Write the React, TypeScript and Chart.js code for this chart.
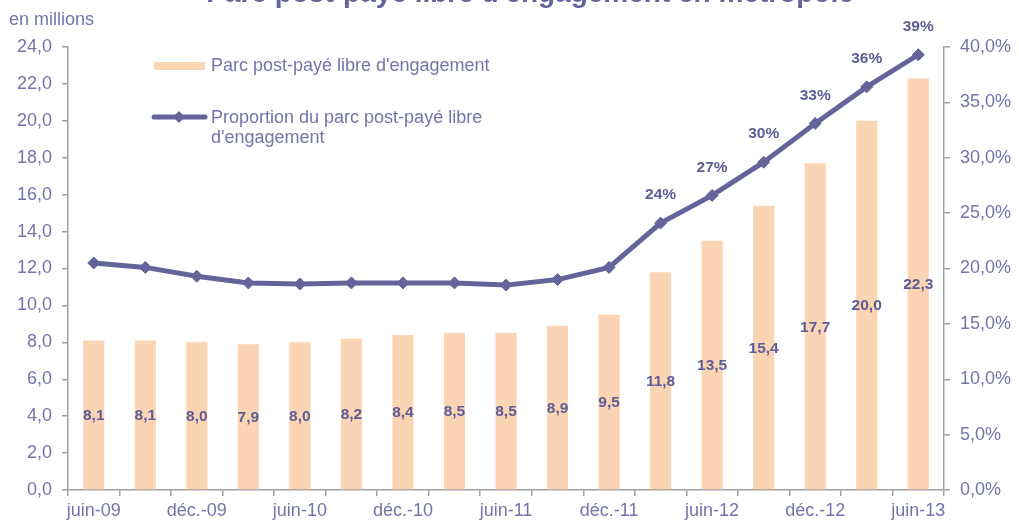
import React, { useEffect, useRef } from "react";
import { Chart, registerables } from "chart.js";

Chart.register(...registerables);

const categories = [
  "juin-09", "sept.-09", "déc.-09", "mars-10", "juin-10", "sept.-10", "déc.-10", "mars-11",
  "juin-11", "sept.-11", "déc.-11", "mars-12", "juin-12", "sept.-12", "déc.-12", "mars-13", "juin-13",
];
const parcValues = [8.1, 8.1, 8.0, 7.9, 8.0, 8.2, 8.4, 8.5, 8.5, 8.9, 9.5, 11.8, 13.5, 15.4, 17.7, 20.0, 22.3];
const proportionValues = [20.5, 20.1, 19.3, 18.7, 18.6, 18.7, 18.7, 18.7, 18.5, 19.0, 20.1, 24.1, 26.6, 29.6, 33.1, 36.4, 39.3];
const proportionLabelledFrom = 11;

const titleText = "Parc post-payé libre d'engagement en métropole";
const unitText = "en millions";
const legendBar = "Parc post-payé libre d'engagement";
const legendLine = ["Proportion du parc post-payé libre", "d'engagement"];

const BAR_COLOR = "#FBD4B4";
const LINE_COLOR = "#64649A";
const TEXT_COLOR = "#7474AA";
const LABEL_COLOR = "#5C5C96";
const AXIS_COLOR = "#A0A0A0";
const FONT = "'Liberation Sans', Arial, sans-serif";

const fmt = (v: number, d = 1) => v.toFixed(d).replace(".", ",");

export default function App() {
  const ref = useRef<HTMLCanvasElement | null>(null);

  useEffect(() => {
    if (!ref.current) return;

    const decor = {
      id: "decor",
      afterDatasetsDraw(chart: any) {
        const ctx = chart.ctx;
        ctx.save();
        const barMeta = chart.getDatasetMeta(0);
        ctx.font = `bold 15.5px ${FONT}`;
        ctx.fillStyle = LABEL_COLOR;
        ctx.textAlign = "center";
        ctx.textBaseline = "middle";
        barMeta.data.forEach((el: any, i: number) => {
          ctx.fillText(fmt(parcValues[i]), el.x, (el.y + el.base) / 2 + 1);
        });
        const lineMeta = chart.getDatasetMeta(1);
        lineMeta.data.forEach((el: any, i: number) => {
          if (i < proportionLabelledFrom) return;
          ctx.fillText(`${Math.round(proportionValues[i])}%`, el.x, el.y - 28);
        });
        ctx.restore();
      },
      afterDraw(chart: any) {
        const ctx = chart.ctx;
        ctx.save();
        ctx.font = `bold 28px ${FONT}`;
        ctx.fillStyle = LINE_COLOR;
        ctx.textAlign = "center";
        ctx.textBaseline = "alphabetic";
        ctx.fillText(titleText, 530, 2);
        ctx.font = `18px ${FONT}`;
        ctx.fillStyle = TEXT_COLOR;
        ctx.textAlign = "left";
        ctx.fillText(unitText, 9, 25);
        ctx.fillStyle = BAR_COLOR;
        ctx.fillRect(154, 62, 51, 8);
        ctx.fillStyle = TEXT_COLOR;
        ctx.fillText(legendBar, 211, 71);
        ctx.strokeStyle = LINE_COLOR;
        ctx.lineWidth = 5;
        ctx.lineCap = "round";
        ctx.beginPath();
        ctx.moveTo(154, 117);
        ctx.lineTo(205, 117);
        ctx.stroke();
        ctx.fillStyle = LINE_COLOR;
        ctx.beginPath();
        ctx.moveTo(179 - 6, 117);
        ctx.lineTo(179, 111);
        ctx.lineTo(179 + 6, 117);
        ctx.lineTo(179, 123);
        ctx.closePath();
        ctx.fill();
        ctx.fillStyle = TEXT_COLOR;
        ctx.fillText(legendLine[0], 211, 123);
        ctx.fillText(legendLine[1], 211, 143);
        ctx.restore();
      },
    };

    const tickFont = { family: FONT, size: 18 };

    const chart = new Chart(ref.current, {
      type: "bar",
      data: {
        labels: categories,
        datasets: [
          {
            type: "bar",
            label: legendBar,
            data: parcValues,
            backgroundColor: BAR_COLOR,
            barPercentage: 0.41,
            categoryPercentage: 1,
            yAxisID: "y",
            order: 2,
          },
          {
            type: "line",
            label: legendLine.join(" "),
            data: proportionValues,
            borderColor: LINE_COLOR,
            backgroundColor: LINE_COLOR,
            borderWidth: 5,
            tension: 0,
            pointStyle: "rectRot",
            pointRadius: 6,
            pointBorderWidth: 1,
            pointBackgroundColor: LINE_COLOR,
            pointBorderColor: LINE_COLOR,
            yAxisID: "y1",
            order: 1,
          },
        ],
      },
      options: {
        animation: false,
        responsive: true,
        maintainAspectRatio: false,
        layout: { padding: { top: 47, left: 0, right: 0, bottom: 0 } },
        plugins: {
          legend: { display: false },
          tooltip: { enabled: false },
          title: { display: false },
        },
        scales: {
          x: {
            type: "category",
            offset: true,
            grid: { display: true, drawOnChartArea: false, tickLength: 6, color: AXIS_COLOR, lineWidth: 1.5, offset: true },
            border: { display: true, color: AXIS_COLOR, width: 1.5 },
            ticks: {
              autoSkip: false,
              maxRotation: 0,
              minRotation: 0,
              padding: 4,
              color: TEXT_COLOR,
              font: tickFont,
              callback: (_v: any, i: number) => (i % 2 === 0 ? categories[i] : ""),
            },
            afterFit: (s: any) => { s.height = 35; },
          },
          y: {
            position: "left",
            min: 0,
            max: 24,
            grid: { display: true, drawOnChartArea: false, tickLength: 6, color: AXIS_COLOR, lineWidth: 1.5 },
            border: { display: true, color: AXIS_COLOR, width: 1.5 },
            ticks: {
              stepSize: 2,
              padding: 10,
              color: TEXT_COLOR,
              font: tickFont,
              callback: (v: any) => fmt(Number(v)),
            },
            afterFit: (s: any) => { s.width = 68; },
          },
          y1: {
            position: "right",
            min: 0,
            max: 40,
            grid: { display: true, drawOnChartArea: false, tickLength: 6, color: AXIS_COLOR, lineWidth: 1.5 },
            border: { display: true, color: AXIS_COLOR, width: 1.5 },
            ticks: {
              stepSize: 5,
              padding: 10,
              color: TEXT_COLOR,
              font: tickFont,
              callback: (v: any) => fmt(Number(v)) + "%",
            },
            afterFit: (s: any) => { s.width = 75; },
          },
        },
      },
      plugins: [decor],
    });

    return () => chart.destroy();
  }, []);

  return (
    <div style={{ position: "absolute", left: 0, top: 0, width: 1019, height: 525 }}>
      <canvas ref={ref} />
    </div>
  );
}
